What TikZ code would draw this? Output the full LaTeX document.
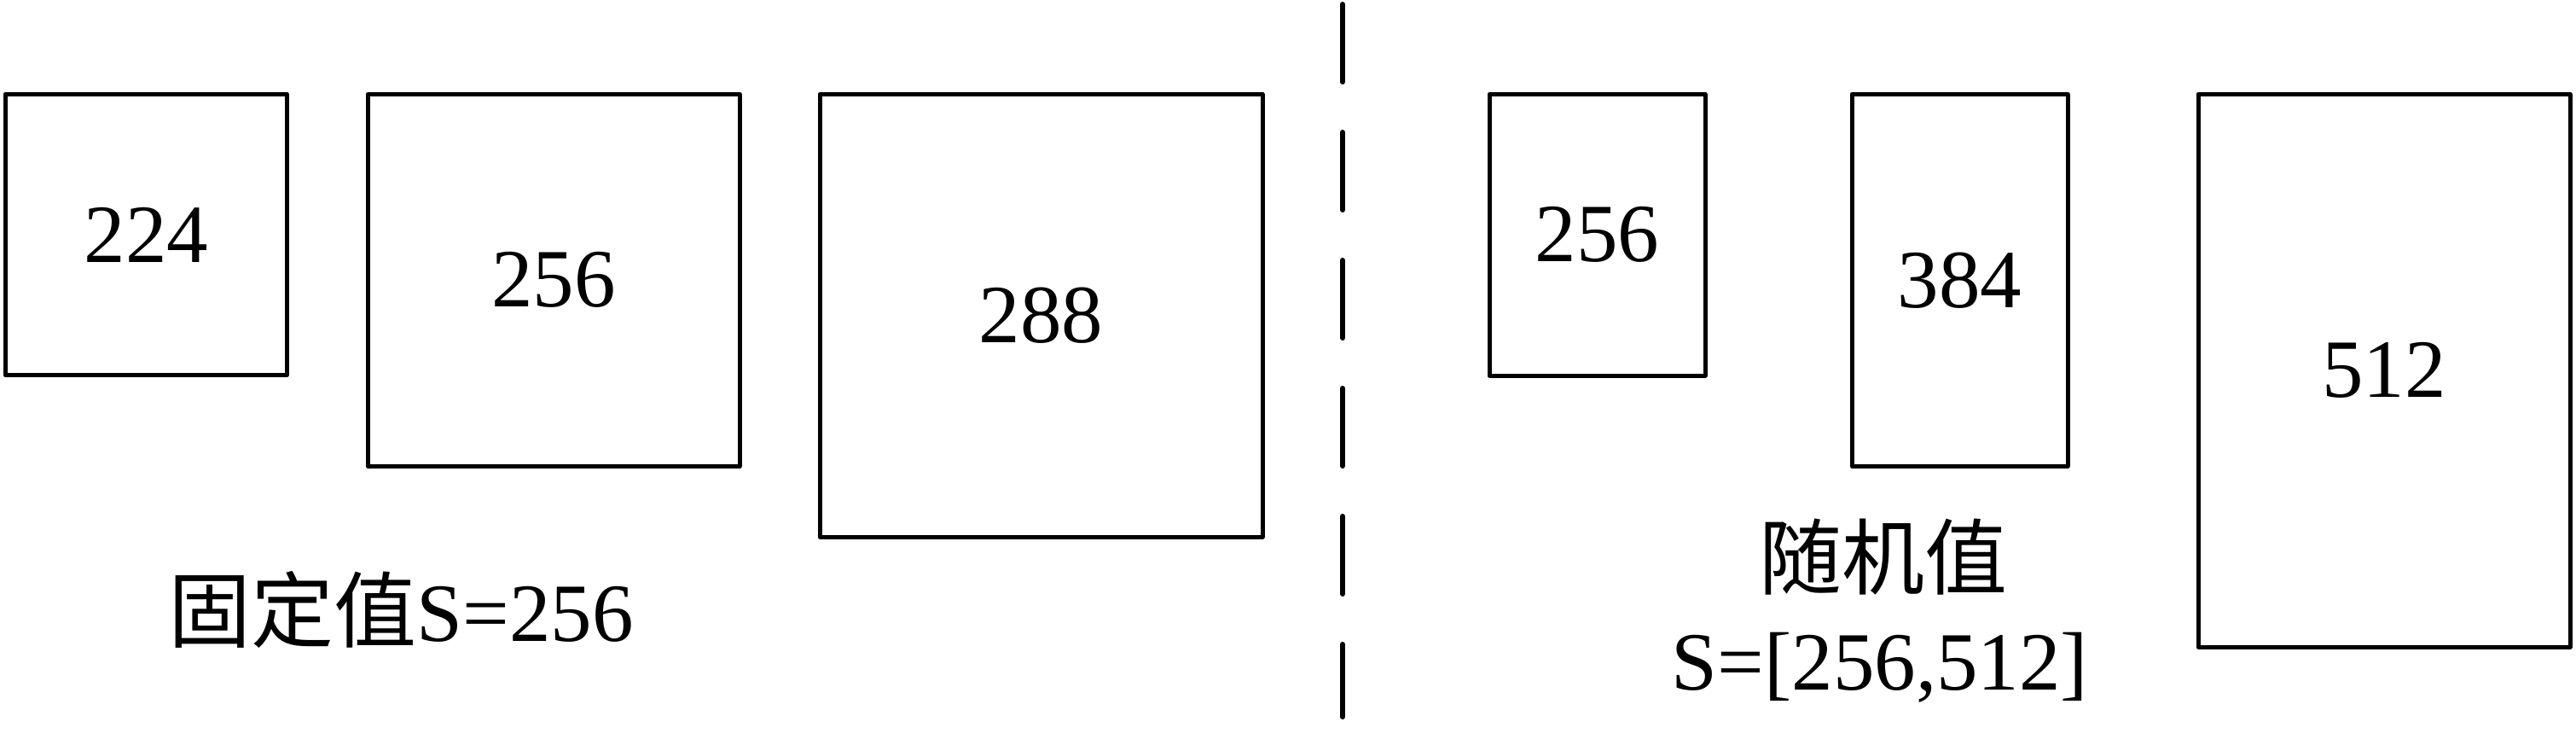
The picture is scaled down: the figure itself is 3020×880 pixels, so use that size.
\documentclass[tikz,border=0pt]{standalone}
\usepackage{fontspec}
\setmainfont{Liberation Serif}
\newfontfamily\cjk{Noto Sans CJK SC}
\begin{document}
\begin{tikzpicture}[x=1pt,y=-1pt,
  sizebox/.style={draw=black,line width=5pt,line join=round,inner sep=0pt,
    rectangle,font=\fontsize{97}{110}\selectfont},
  lbl/.style={inner sep=0pt,anchor=base,font=\fontsize{97}{110}\selectfont},
  divider/.style={line width=6pt,line cap=round,dash pattern=on 91pt off 59pt}]
\useasboundingbox (0,0) rectangle (3020,880);
\node[sizebox,minimum width=330.5pt,minimum height=329pt] (b1) at (171.25,275) {224};
\node[sizebox,minimum width=436pt,minimum height=435.5pt] (b2) at (649,328.25) {256};
\node[sizebox,minimum width=519pt,minimum height=518.5pt] (b3) at (1220.5,369.75) {288};
\node[sizebox,minimum width=253pt,minimum height=329.5pt] (b4) at (1872.5,275.25) {256};
\node[sizebox,minimum width=253pt,minimum height=435.5pt] (b5) at (2297.5,328.25) {384};
\node[sizebox,minimum width=436pt,minimum height=647.5pt] (b6) at (2795,434.25) {512};
\node[lbl] (fixed) at (470,751) {{\cjk 固定值}S=256};
\node[lbl] (rand1) at (2208,689) {\cjk 随机值};
\node[lbl] (rand2) at (2204,808) {S=[256,512]};
\coordinate (dtop) at (1574,5);
\coordinate (dbot) at (1574,840);
\draw[divider] (dtop) -- (dbot);
\end{tikzpicture}
\end{document}
